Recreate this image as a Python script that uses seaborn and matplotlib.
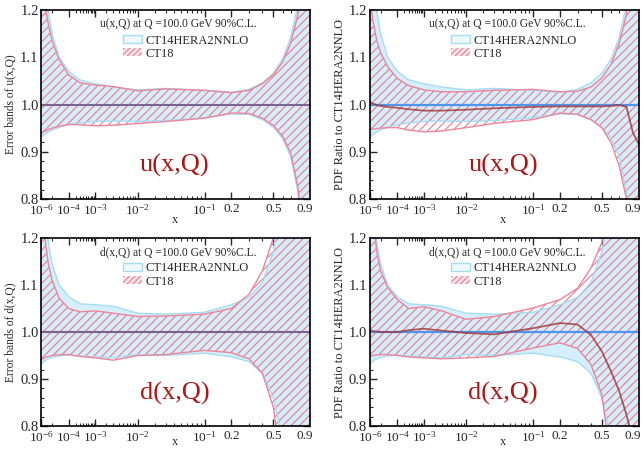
import numpy as np
import matplotlib
matplotlib.use("Agg")
import matplotlib.pyplot as plt
import matplotlib.patches as mpatches
import seaborn as sns

# x grid shared by every curve
x_vals = [1e-6, 2e-6, 5e-6, 1e-5, 3e-5, 1e-4, 3e-4, 1e-3, 3e-3, 1e-2, 3e-2,
          0.1, 0.2, 0.3, 0.4, 0.5, 0.6, 0.7, 0.8, 0.9, 1.0]

# u-quark: CT14HERA2NNLO band (normalised to its own central)
u_ct14_hi = [1.40, 1.28, 1.195, 1.15, 1.10, 1.07, 1.052, 1.044, 1.037, 1.031, 1.034,
             1.030, 1.026, 1.032, 1.046, 1.066, 1.096, 1.142, 1.21, 1.40, 1.80]
u_ct14_lo = [0.932, 0.936, 0.942, 0.946, 0.952, 0.957, 0.961, 0.964, 0.965, 0.964, 0.966,
             0.972, 0.980, 0.979, 0.968, 0.952, 0.928, 0.890, 0.815, 0.65, 0.30]
# u-quark: CT18 error band
u_ct18_hi = [1.30, 1.22, 1.17, 1.135, 1.095, 1.062, 1.046, 1.041, 1.038, 1.029, 1.033,
             1.030, 1.025, 1.030, 1.044, 1.063, 1.090, 1.130, 1.19, 1.35, 1.70]
u_ct18_lo = [0.940, 0.943, 0.947, 0.950, 0.954, 0.958, 0.957, 0.955, 0.956, 0.960, 0.964,
             0.971, 0.982, 0.981, 0.971, 0.956, 0.933, 0.897, 0.825, 0.68, 0.35]
# u-quark: CT18 ratio to CT14HERA2NNLO
u_rat_hi = [1.23, 1.18, 1.135, 1.11, 1.08, 1.055, 1.040, 1.031, 1.027, 1.027, 1.030,
            1.032, 1.027, 1.028, 1.037, 1.056, 1.085, 1.130, 1.19, 1.35, 1.70]
u_rat_lo = [0.947, 0.948, 0.949, 0.950, 0.951, 0.951, 0.946, 0.942, 0.944, 0.951, 0.960,
            0.968, 0.982, 0.979, 0.968, 0.951, 0.919, 0.870, 0.80, 0.65, 0.30]
u_rat_c = [1.005, 1.002, 0.999, 0.997, 0.995, 0.993, 0.990, 0.987, 0.987, 0.989, 0.992,
           0.995, 0.996, 0.996, 0.996, 0.996, 0.997, 0.999, 0.995, 0.940, 0.915]

# d-quark: CT14HERA2NNLO band
d_ct14_hi = [1.40, 1.28, 1.19, 1.145, 1.10, 1.075, 1.060, 1.058, 1.055, 1.040, 1.038,
             1.042, 1.058, 1.074, 1.105, 1.17, 1.28, 1.45, 1.70, 2.00, 2.50]
d_ct14_lo = [0.932, 0.938, 0.943, 0.946, 0.949, 0.951, 0.949, 0.947, 0.945, 0.952, 0.950,
             0.955, 0.947, 0.937, 0.912, 0.86, 0.77, 0.60, 0.40, 0.20, 0.0]
# d-quark: CT18 error band
d_ct18_hi = [1.30, 1.21, 1.145, 1.11, 1.072, 1.050, 1.043, 1.045, 1.040, 1.033, 1.034,
             1.038, 1.050, 1.080, 1.130, 1.20, 1.35, 1.55, 1.80, 2.10, 2.60]
d_ct18_lo = [0.941, 0.945, 0.948, 0.950, 0.952, 0.952, 0.948, 0.945, 0.940, 0.950, 0.952,
             0.961, 0.956, 0.943, 0.912, 0.84, 0.70, 0.50, 0.30, 0.10, 0.0]
# d-quark: CT18 ratio to CT14HERA2NNLO
d_rat_hi = [1.35, 1.25, 1.17, 1.13, 1.095, 1.069, 1.050, 1.054, 1.045, 1.027, 1.033,
            1.051, 1.069, 1.093, 1.136, 1.19, 1.32, 1.50, 1.75, 2.10, 2.60]
d_rat_lo = [0.948, 0.950, 0.951, 0.952, 0.952, 0.950, 0.947, 0.945, 0.943, 0.945, 0.948,
            0.966, 0.977, 0.965, 0.931, 0.867, 0.72, 0.50, 0.30, 0.10, 0.0]
d_rat_c = [1.004, 1.002, 1.001, 1.000, 1.000, 1.000, 1.004, 1.007, 1.003, 0.998, 0.995,
           1.008, 1.019, 1.016, 0.994, 0.959, 0.916, 0.874, 0.824, 0.770, 0.720]

ones = [1.0] * len(x_vals)

xtick_pos = [1e-6, 1e-4, 1e-3, 1e-2, 1e-1, 0.2, 0.5, 0.9]
xtick_lab = ["$10^{-6}$", "$10^{-4}$", "$10^{-3}$", "$10^{-2}$", "$10^{-1}$", "0.2", "0.5", "0.9"]
xminor = [1e-5] + [k * 10.0 ** n for n in (-4, -3, -2) for k in range(2, 10)] + [0.3, 0.4, 0.6, 0.7, 0.8]

BLUE_FILL = "#d3effb"
BLUE_EDGE = "#a6dcf3"
PINK = "#ee8499"
BLUE_LINE = "#4f95ec"
DARK_RED = "#a23434"
TEXT_RED = "#b01414"

sns.set_style("ticks")
plt.rcParams["font.family"] = ["Liberation Serif", "DejaVu Serif"]
plt.rcParams["mathtext.fontset"] = "custom"
plt.rcParams["mathtext.rm"] = "Liberation Serif"
plt.rcParams["mathtext.it"] = "Liberation Serif:italic"
plt.rcParams["hatch.linewidth"] = 0.9


def fwd(v):
    return np.power(np.clip(v, 1e-12, None), 0.2)


def inv(v):
    return np.power(np.clip(v, 0, None), 5)


def panel(ax, ct14_hi, ct14_lo, ct18_hi, ct18_lo, ct18_c, ylabel, flavor, ratio=False, bottom=False):
    ax.fill_between(x_vals, ct14_lo, ct14_hi, facecolor=BLUE_FILL, edgecolor="none")
    sns.lineplot(x=x_vals, y=ct14_hi, ax=ax, color=BLUE_EDGE, lw=1)
    sns.lineplot(x=x_vals, y=ct14_lo, ax=ax, color=BLUE_EDGE, lw=1)
    ax.fill_between(x_vals, ct18_lo, ct18_hi, facecolor="none", edgecolor=PINK,
                    hatch="////", linewidth=0)
    sns.lineplot(x=x_vals, y=ct18_hi, ax=ax, color=PINK, lw=1)
    sns.lineplot(x=x_vals, y=ct18_lo, ax=ax, color=PINK, lw=1)
    if ratio:
        sns.lineplot(x=x_vals, y=ones, ax=ax, color=BLUE_LINE, lw=1.6)
        sns.lineplot(x=x_vals, y=ct18_c, ax=ax, color=DARK_RED, lw=1.3, alpha=0.8)
    else:
        # both centrals sit on 1.0 here
        sns.lineplot(x=x_vals, y=ct18_c, ax=ax, color=DARK_RED, lw=1.5)
        sns.lineplot(x=x_vals, y=ones, ax=ax, color=BLUE_LINE, lw=1.3, alpha=0.55)

    ax.set_xscale("function", functions=(fwd, inv))
    ax.set_xlim(1e-6, 1.0)
    ax.set_ylim(0.8, 1.2)
    ax.set_xticks(xtick_pos)
    ax.set_xticklabels(xtick_lab)
    ax.set_xticks(xminor, minor=True)
    ax.set_yticks([0.8, 0.9, 1.0, 1.1, 1.2])
    ax.set_yticklabels(["0.8", "0.9", "1.0", "1.1", "1.2"])
    ax.set_yticks(np.arange(0.8, 1.201, 0.02), minor=True)
    ax.tick_params(which="both", direction="in", top=True, right=True, pad=2)
    ax.tick_params(axis="x", labelsize=9.5, pad=3)
    ax.tick_params(axis="y", labelsize=10.5)
    ax.tick_params(which="major", length=5, width=1)
    ax.tick_params(which="minor", length=2.5, width=0.8)
    for s in ax.spines.values():
        s.set_linewidth(1.2)
        s.set_color("black")

    ax.set_xlabel("x", fontsize=9)
    ax.xaxis.set_label_coords(0.496, -0.055 if bottom else -0.082)
    if ratio:
        ax.set_ylabel(ylabel, fontsize=8.9)
        ax.yaxis.set_label_coords(-0.088, 0.5)
    else:
        ax.set_ylabel(ylabel, fontsize=8.3)
        ax.yaxis.set_label_coords(-0.092, 0.5)

    ax.text(0.51, 0.926, f"{flavor}(x,Q) at Q =100.0 GeV 90%C.L.", transform=ax.transAxes,
            ha="center", va="center", fontsize=8.3)
    ax.text(0.495, 0.175, f"{flavor}(x,Q)", transform=ax.transAxes, ha="center",
            va="center", fontsize=19, color=TEXT_RED)

    handles = [mpatches.Patch(facecolor="#eef9fe", edgecolor=BLUE_EDGE, lw=1, label="CT14HERA2NNLO"),
               mpatches.Patch(facecolor="#fde6eb", edgecolor=PINK, hatch="//////", lw=0, label="CT18")]
    ax.legend(handles=handles, loc="upper left", bbox_to_anchor=(0.303, 0.87), frameon=False,
              fontsize=9, handlelength=1.5, handleheight=0.6, handletextpad=0.3,
              labelspacing=0.1, borderpad=0, borderaxespad=0)


fig = plt.figure(figsize=(6.44, 4.49), dpi=100)
w, h_top, h_bot = 0.4177, 0.4209, 0.4187
ax_tl = fig.add_axes([0.0644, 0.5568, w, h_top])
ax_tr = fig.add_axes([0.5745, 0.5568, w, h_top])
ax_bl = fig.add_axes([0.0644, 0.0512, w, h_bot])
ax_br = fig.add_axes([0.5745, 0.0512, w, h_bot])

panel(ax_tl, u_ct14_hi, u_ct14_lo, u_ct18_hi, u_ct18_lo, ones, "Error bands of u(x,Q)", "u")
panel(ax_tr, u_ct14_hi, u_ct14_lo, u_rat_hi, u_rat_lo, u_rat_c, "PDF Ratio to CT14HERA2NNLO", "u", ratio=True)
panel(ax_bl, d_ct14_hi, d_ct14_lo, d_ct18_hi, d_ct18_lo, ones, "Error bands of d(x,Q)", "d", bottom=True)
panel(ax_br, d_ct14_hi, d_ct14_lo, d_rat_hi, d_rat_lo, d_rat_c, "PDF Ratio to CT14HERA2NNLO", "d",
      ratio=True, bottom=True)

fig.savefig("out.png", dpi=100)
